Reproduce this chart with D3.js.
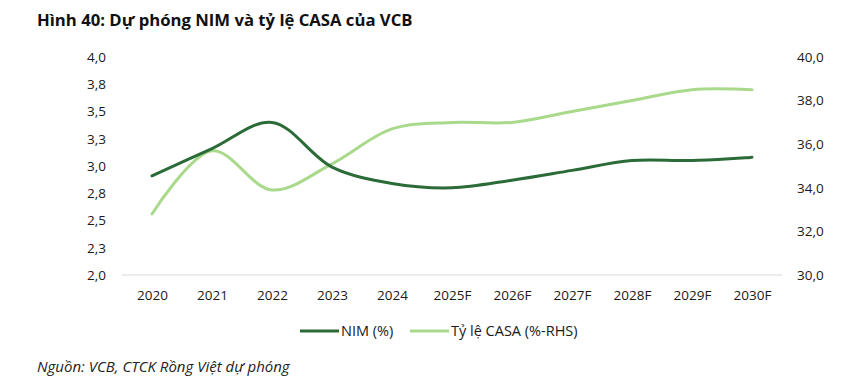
<!DOCTYPE html>
<html><head><meta charset="utf-8">
<script src="https://cdn.jsdelivr.net/npm/d3@7"></script>
<style>body{margin:0;background:#fff}svg{display:block}</style>
</head><body>
<svg id="c" width="861" height="377"></svg>
<script>
const categories = ["2020","2021","2022","2023","2024","2025F","2026F","2027F","2028F","2029F","2030F"];
const nimValues = [2.91,3.16,3.40,2.99,2.84,2.80,2.87,2.96,3.05,3.05,3.08];
const casaValues = [32.8,35.7,33.9,35.1,36.7,37.0,37.0,37.5,38.0,38.5,38.5];
const leftTicks = [2.0,2.25,2.5,2.75,3.0,3.25,3.5,3.75,4.0];
const rightTicks = [30,32,34,36,38,40];
const seriesNames = ["NIM (%)","Tỷ lệ CASA (%-RHS)"];
const colors = ["#2b6b37","#a9d98b"];

const svg = d3.select("#c");
const font = "'Open Sans', 'Noto Sans', sans-serif";
const x = d3.scalePoint().domain(categories).range([152,752]);
const yL = d3.scaleLinear().domain([2,4]).range([275,57]);
const yR = d3.scaleLinear().domain([30,40]).range([275,57]);
const fmt = v => d3.format(".1f")(v).replace(".", ",");

svg.append("text").attr("x",37).attr("y",26).attr("font-family",font)
  .attr("font-weight","bold").attr("font-size",16.7).attr("fill","#111")
  .text("Hình 40: Dự phóng NIM và tỷ lệ CASA của VCB");

// baseline
svg.append("line").attr("x1",122).attr("x2",782).attr("y1",275).attr("y2",275)
  .attr("stroke","#d9d9d9").attr("stroke-width",1);

const axL = svg.append("g").attr("transform","translate(112,0)")
  .call(d3.axisLeft(yL).tickValues(leftTicks).tickSize(0).tickPadding(0).tickFormat(fmt));
const axR = svg.append("g").attr("transform","translate(797,0)")
  .call(d3.axisRight(yR).tickValues(rightTicks).tickSize(0).tickPadding(0).tickFormat(fmt));
const axB = svg.append("g").attr("transform","translate(0,290)")
  .call(d3.axisBottom(x).tickSize(0).tickPadding(0));
[axL,axR,axB].forEach(a=>{a.select(".domain").remove();
  a.selectAll("text").attr("font-family",font).attr("font-size",13.5).attr("fill","#1a1a1a");});
axL.selectAll("text").attr("x",-6);
axB.selectAll("text").attr("dy","0.71em");

const lineL = d3.line().x((d,i)=>x(categories[i])).y(d=>yL(d)).curve(d3.curveCatmullRom.alpha(0.5));
const lineR = d3.line().x((d,i)=>x(categories[i])).y(d=>yR(d)).curve(d3.curveCatmullRom.alpha(0.5));
svg.append("path").datum(casaValues).attr("d",lineR).attr("fill","none")
  .attr("stroke",colors[1]).attr("stroke-width",3).attr("stroke-linecap","round");
svg.append("path").datum(nimValues).attr("d",lineL).attr("fill","none")
  .attr("stroke",colors[0]).attr("stroke-width",3).attr("stroke-linecap","round");

// legend
const leg = [{x:300},{x:410}];
leg.forEach((l,i)=>{
  svg.append("line").attr("x1",l.x).attr("x2",l.x+39).attr("y1",331).attr("y2",331)
    .attr("stroke",colors[i]).attr("stroke-width",3);
  svg.append("text").attr("x",l.x+41).attr("y",336).attr("font-family",font)
    .attr("font-size",14.5).attr("fill","#1a1a1a").text(seriesNames[i]);
});

svg.append("text").attr("x",37).attr("y",372).attr("font-family",font)
  .attr("font-style","italic").attr("font-size",15).attr("fill","#222")
  .text("Nguồn: VCB, CTCK Rồng Việt dự phóng");
</script>
</body></html>
